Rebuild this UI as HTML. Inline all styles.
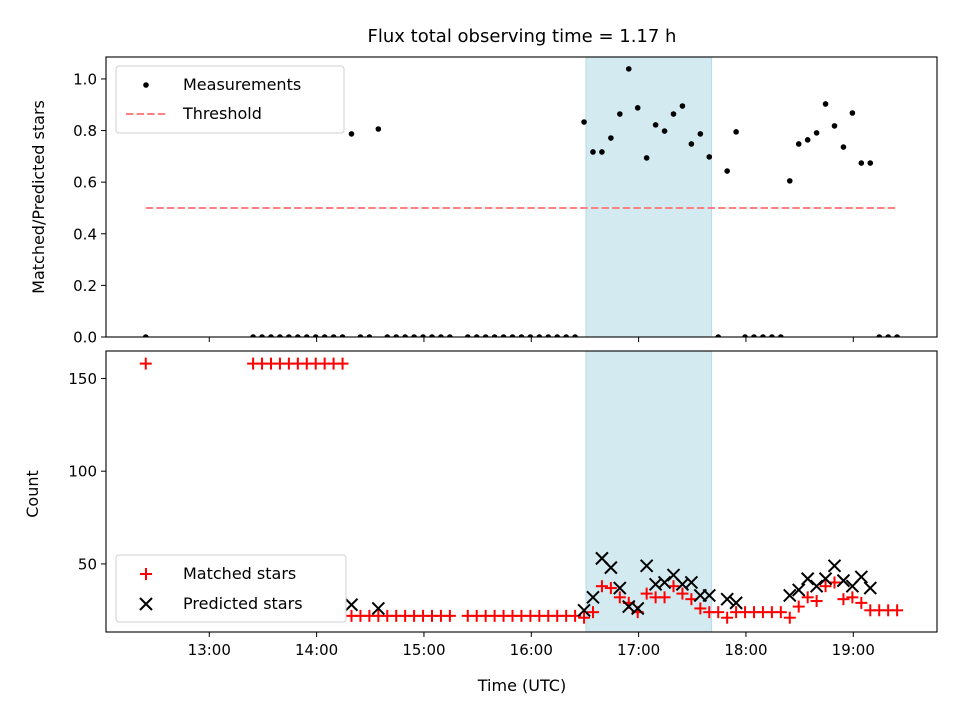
<!DOCTYPE html>
<html><head><meta charset="utf-8"><style>
html,body{margin:0;padding:0;background:#fff;}
svg{display:block;font-family:"DejaVu Sans","Liberation Sans",sans-serif;}
</style></head><body>
<svg id="chart" width="960" height="720" viewBox="0 0 960 720"></svg>
<script>
// minutes after 12:00
const times = [24.5,
 84.5,89.5,94.5,99.5,104.5,109.5,114.5,119.5,124.5,129.5,134.5,
 139.5,144.5,149.5,154.5,
 159.5,164.5,169.5,174.5,179.5,184.5,189.5,194.5,
 204.5,209.5,214.5,219.5,224.5,229.5,234.5,239.5,244.5,249.5,254.5,259.5,264.5,
 269.5,274.5,279.5,284.5,289.5,294.5,299.5,304.5,309.5,314.5,319.5,324.5,329.5,334.5,339.5,
 344.5,349.5,354.5,
 359.5,364.5,369.5,374.5,379.5,
 384.5,389.5,394.5,399.5,404.5,409.5,414.5,419.5,424.5,429.5,
 434.5,439.5,444.5];
const ratio = [0,
 0,0,0,0,0,0,0,0,0,0,0,
 0.787,0,0,0.806,
 0,0,0,0,0,0,0,0,
 0,0,0,0,0,0,0,0,0,0,0,0,0,
 0.833,0.717,0.717,0.771,0.864,1.039,0.888,0.694,0.822,0.798,0.864,0.895,0.748,0.787,0.698,
 0,0.643,0.795,
 0,0,0,0,0,
 0.605,0.748,0.764,0.791,0.903,0.818,0.736,0.868,0.674,0.674,
 0,0,0];
const matched = [158,
 158,158,158,158,158,158,158,158,158,158,158,
 22,22,22,22,
 22,22,22,22,22,22,22,22,
 22,22,22,22,22,22,22,22,22,22,22,22,22,
 21,24,38,37,32,29,24,34,32,32,38,34,31,26,24,
 24,21,24,
 24,24,24,24,24,
 21,27,32,30,38,40,31,32,29,25,
 25,25,25];
const predicted = [0,
 0,0,0,0,0,0,0,0,0,0,0,
 28,0,0,26,
 0,0,0,0,0,0,0,0,
 0,0,0,0,0,0,0,0,0,0,0,0,0,
 25,32,53,48,37,27,26,49,39,40,44,39,40,33,33,
 0,31,29,
 0,0,0,0,0,
 33,36,42,38,42,49,41,38,43,37,
 0,0,0];
const threshold = 0.5;
const shadeStart = 270.6, shadeEnd = 340.8;
const xTicks = [60,120,180,240,300,360,420];
const xTickLabels = ["13:00","14:00","15:00","16:00","17:00","18:00","19:00"];
const yTopTicks = [0,0.2,0.4,0.6,0.8,1.0];
const yTopLabels = ["0.0","0.2","0.4","0.6","0.8","1.0"];
const yBotTicks = [50,100,150];
const yBotLabels = ["50","100","150"];

const NS="http://www.w3.org/2000/svg";
const svg=document.getElementById('chart');
function mk(tag,attrs,parent){const e=document.createElementNS(NS,tag);for(const k in attrs)e.setAttribute(k,attrs[k]);(parent||svg).appendChild(e);return e;}
const L=106,R=937;
const X=t=>L+(t-2.27)*(R-L)/(466.8-2.27);
const T={top:57,bot:337,min:0,max:1.085};
const B={top:351,bot:632,min:13.3,max:164.8};
const Yt=v=>T.bot-(v-T.min)/(T.max-T.min)*(T.bot-T.top);
const Yb=v=>B.bot-(v-B.min)/(B.max-B.min)*(B.bot-B.top);

const defs=mk('defs',{});
const c1=mk('clipPath',{id:'ct'},defs);mk('rect',{x:L,y:T.top,width:R-L,height:T.bot-T.top},c1);
const c2=mk('clipPath',{id:'cb'},defs);mk('rect',{x:L,y:B.top,width:R-L,height:B.bot-B.top},c2);

const title=mk('text',{x:522,y:42,'text-anchor':'middle','font-size':'18'});title.textContent='Flux total observing time = 1.17 h';


function panel(P,Y,clip,name){
  const g=mk('g',{'clip-path':'url(#'+clip+')'});
  
  const sh=mk('rect',{x:X(shadeStart),y:P.top,width:X(shadeEnd)-X(shadeStart),height:P.bot-P.top,fill:'#d4eaf1',stroke:'#b5dbe6','stroke-width':1},g);
  
  return g;
}
const gt=panel(T,Yt,'ct','top');
const gb=panel(B,Yb,'cb','bottom');

const th=mk('line',{x1:X(times[0]),x2:X(times[times.length-1]),y1:Yt(threshold),y2:Yt(threshold),stroke:'#ff8080','stroke-width':2,'stroke-dasharray':'7.4,3.2'},gt);

times.forEach((t,i)=>{
  const c=mk('circle',{cx:X(t),cy:Yt(ratio[i]),r:2.8,fill:'#000'},gt);
  
  
});
function plus(x,y,parent){const g=mk('g',{stroke:'#ff0000','stroke-width':2},parent);mk('line',{x1:x-6,x2:x+6,y1:y,y2:y},g);mk('line',{x1:x,x2:x,y1:y-6,y2:y+6},g);return g;}
function cross(x,y,parent){const g=mk('g',{stroke:'#000','stroke-width':2},parent);mk('line',{x1:x-6,x2:x+6,y1:y-6,y2:y+6},g);mk('line',{x1:x-6,x2:x+6,y1:y+6,y2:y-6},g);return g;}
times.forEach((t,i)=>{
  const m=plus(X(t),Yb(matched[i]),gb);
  
  
});
times.forEach((t,i)=>{
  const p=cross(X(t),Yb(predicted[i]),gb);
  
  
});

function frame(P,Y,ticks,labels,name,showX){
  const f=mk('rect',{x:L,y:P.top,width:R-L,height:P.bot-P.top,fill:'none',stroke:'#000','stroke-width':1.1});
  
  ticks.forEach((v,i)=>{
    const y=Y(v);
    mk('line',{x1:L-5,x2:L,y1:y,y2:y,stroke:'#000','stroke-width':1});
    const tx=mk('text',{x:L-9,y:y+5.5,'text-anchor':'end','font-size':'15'});tx.textContent=labels[i];
    
  });
  xTicks.forEach((t,i)=>{
    const x=X(t);
    mk('line',{x1:x,x2:x,y1:P.bot,y2:P.bot+5,stroke:'#000','stroke-width':1});
    if(showX){const tx=mk('text',{x:x,y:P.bot+23,'text-anchor':'middle','font-size':'15'});tx.textContent=xTickLabels[i];
      }
  });
}
frame(T,Yt,yTopTicks,yTopLabels,'top',false);
frame(B,Yb,yBotTicks,yBotLabels,'bottom',true);

const yl1=mk('text',{transform:'translate(44,197) rotate(-90)','text-anchor':'middle','font-size':'16'});yl1.textContent='Matched/Predicted stars';

const yl2=mk('text',{transform:'translate(38,494) rotate(-90)','text-anchor':'middle','font-size':'16'});yl2.textContent='Count';

const xl=mk('text',{x:522,y:691,'text-anchor':'middle','font-size':'16'});xl.textContent='Time (UTC)';


const lg1=mk('g',{});
mk('rect',{x:116,y:66,width:228,height:67,rx:3,fill:'#fff','fill-opacity':0.8,stroke:'#d0d0d0'},lg1);
mk('circle',{cx:146,cy:85,r:2.8,fill:'#000'},lg1);
let t1=mk('text',{x:183,y:90,'font-size':'16'},lg1);t1.textContent='Measurements';
mk('line',{x1:126,x2:166,y1:114,y2:114,stroke:'#ff8080','stroke-width':2,'stroke-dasharray':'7.4,3.2'},lg1);
let t2=mk('text',{x:183,y:119,'font-size':'16'},lg1);t2.textContent='Threshold';

const lg2=mk('g',{});
mk('rect',{x:116,y:555,width:230,height:67,rx:3,fill:'#fff','fill-opacity':0.8,stroke:'#d0d0d0'},lg2);
plus(146,574,lg2);
let t3=mk('text',{x:183,y:579,'font-size':'16'},lg2);t3.textContent='Matched stars';
cross(146,604,lg2);
let t4=mk('text',{x:183,y:609,'font-size':'16'},lg2);t4.textContent='Predicted stars';
</script>
</body></html>
